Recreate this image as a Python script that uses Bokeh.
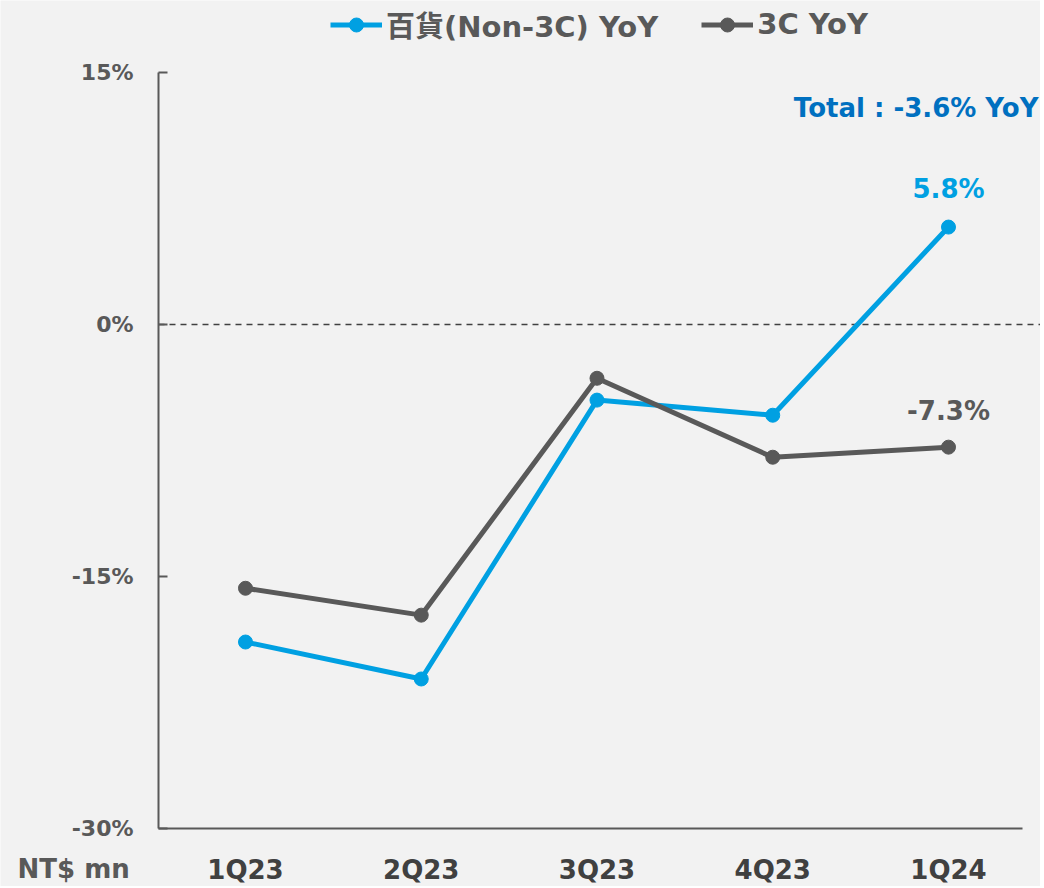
from bokeh.plotting import figure
from bokeh.models import (ColumnDataSource, Range1d, FixedTicker, PrintfTickFormatter,
                          Legend, LegendItem, Label)
from bokeh.core.properties import value
from bokeh.embed import file_html
from bokeh.resources import INLINE

quarters = ["1Q23", "2Q23", "3Q23", "4Q23", "1Q24"]
non3c_yoy = [-18.9, -21.1, -4.5, -5.4, 5.8]
c3_yoy = [-15.7, -17.3, -3.2, -7.9, -7.3]
total_yoy = -3.6
y_ticks = [-30, -15, 0, 15]

BLUE = "#00A0E2"
DARK_BLUE = "#0070C0"
GRAY = "#595959"
BG = "#F2F2F2"
FONT = "DejaVu Sans"

W, H = 1040, 886
# layout (axis placement) constants
X_START, X_END = -1.394, 4.5235
Y_BOTTOM, Y_TOP = -33.452, 19.286
Y_AXIS_AT = -0.495
X_AXIS_END = 4.421
Y_MIN, Y_MAX = y_ticks[0], y_ticks[-1]

xs = list(range(len(quarters)))

p = figure(width=W, height=H, output_backend="svg", toolbar_location=None,
           x_range=Range1d(X_START, X_END), y_range=Range1d(Y_BOTTOM, Y_TOP),
           min_border=0)
p.min_border_left = p.min_border_right = p.min_border_top = p.min_border_bottom = 0
p.background_fill_color = BG
p.border_fill_color = BG
p.outline_line_color = None
p.grid.grid_line_color = None

# y axis pinned inside the frame
p.yaxis.fixed_location = Y_AXIS_AT
p.yaxis.bounds = (Y_MIN, Y_MAX)
p.yaxis.ticker = FixedTicker(ticks=y_ticks)
p.yaxis.formatter = PrintfTickFormatter(format="%d%%")
p.yaxis.major_tick_in = 9
p.yaxis.major_tick_out = 0
p.yaxis.minor_tick_line_color = None
p.yaxis.axis_line_color = GRAY
p.yaxis.axis_line_width = 2
p.yaxis.major_tick_line_color = GRAY
p.yaxis.major_tick_line_width = 2
p.yaxis.major_label_text_font = FONT
p.yaxis.major_label_text_font_style = "bold"
p.yaxis.major_label_text_font_size = "22px"
p.yaxis.major_label_text_color = GRAY
p.yaxis.major_label_standoff = 25

# x axis pinned at -30%
p.xaxis.fixed_location = Y_MIN
p.xaxis.bounds = (Y_AXIS_AT, X_AXIS_END)
p.xaxis.ticker = FixedTicker(ticks=xs)
p.xaxis.major_label_overrides = {i: q for i, q in zip(xs, quarters)}
p.xaxis.major_tick_line_color = None
p.xaxis.minor_tick_line_color = None
p.xaxis.axis_line_color = GRAY
p.xaxis.axis_line_width = 2
p.xaxis.major_label_text_font = FONT
p.xaxis.major_label_text_font_style = "bold"
p.xaxis.major_label_text_font_size = "26px"
p.xaxis.major_label_text_color = "#404040"
p.xaxis.major_label_standoff = 20

# dashed zero reference line from the y axis to the frame edge
p.segment(x0=[Y_AXIS_AT], y0=[0], x1=[X_END], y1=[0], line_color="#404040",
          line_width=1.5, line_dash="6 5")

src_b = ColumnDataSource(dict(x=xs, y=non3c_yoy))
src_g = ColumnDataSource(dict(x=xs, y=c3_yoy))

lb = p.line("x", "y", source=src_b, line_color=BLUE, line_width=5)
cb = p.scatter("x", "y", source=src_b, size=14, fill_color=BLUE, line_color=BLUE)
lg = p.line("x", "y", source=src_g, line_color=GRAY, line_width=5)
cg = p.scatter("x", "y", source=src_g, size=14, fill_color=GRAY, line_color=GRAY)

# end labels
end_b = ColumnDataSource(dict(x=[xs[-1]], y=[non3c_yoy[-1]],
                              t=["%.1f%%" % non3c_yoy[-1]]))
end_g = ColumnDataSource(dict(x=[xs[-1]], y=[c3_yoy[-1]],
                              t=["%.1f%%" % c3_yoy[-1]]))
p.text("x", "y", text="t", source=end_b, text_align="center", text_baseline="middle",
       y_offset=-38, text_font=value(FONT), text_font_style="bold",
       text_font_size="26px", text_color=BLUE)
p.text("x", "y", text="t", source=end_g, text_align="center", text_baseline="middle",
       y_offset=-36, text_font=value(FONT), text_font_style="bold",
       text_font_size="26px", text_color=GRAY)

p.add_layout(Label(x=4.512, y=12.86, text="Total : %.1f%% YoY" % total_yoy,
                   text_align="right", text_baseline="middle", text_font=FONT,
                   text_font_style="bold", text_font_size="26px",
                   text_color=DARK_BLUE))

p.add_layout(Label(x=-1.297, y=-32.42, text="NT$ mn", text_align="left",
                   text_baseline="middle", text_font=FONT, text_font_style="bold",
                   text_font_size="26px", text_color=GRAY))

legend = Legend(items=[LegendItem(label="百貨(Non-3C) YoY", renderers=[lb, cb]),
                       LegendItem(label="3C YoY", renderers=[lg, cg])],
                orientation="horizontal", location=(330, 841),
                background_fill_alpha=0, border_line_color=None,
                label_text_font="DejaVu Sans, 'Noto Sans CJK TC'",
                label_text_font_style="bold", label_text_font_size="29px",
                label_text_color=GRAY, glyph_width=52, glyph_height=35,
                label_standoff=4, spacing=43, padding=0, margin=0)
p.add_layout(legend, "center")

open("out.html", "w").write(file_html(p, INLINE))
